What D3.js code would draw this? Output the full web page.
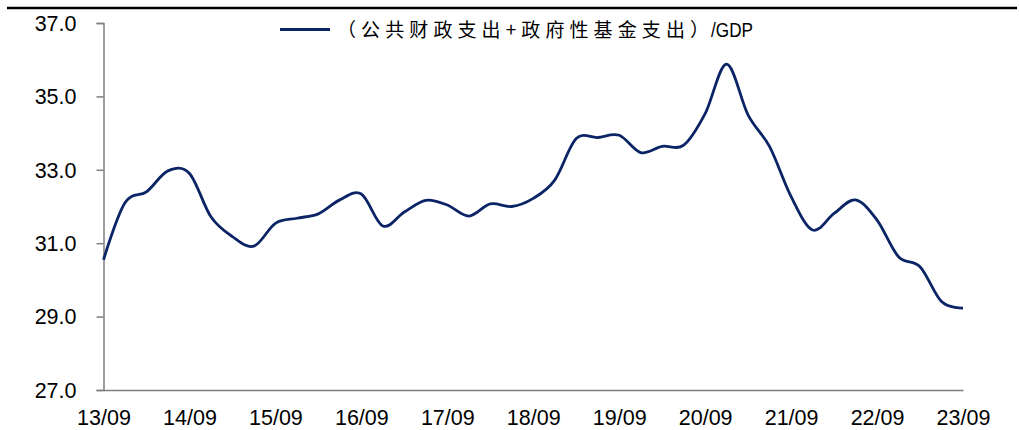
<!DOCTYPE html>
<html>
<head>
<meta charset="utf-8">
<script src="https://cdn.jsdelivr.net/npm/d3@7"></script>
<style>
  body { margin: 0; background: #fff; }
  svg { display: block; }
</style>
</head>
<body>
<div id="chart"></div>
<script>
// Quarterly ratio, 13/09 .. 23/09
const ratio = [30.55, 32.10, 32.40, 32.97, 32.90, 31.72, 31.18, 30.92, 31.54, 31.68,
               31.80, 32.18, 32.34, 31.47, 31.85, 32.17, 32.04, 31.74, 32.07, 32.00,
               32.22, 32.72, 33.85, 33.88, 33.94, 33.47, 33.64, 33.67, 34.53, 35.88,
               34.49, 33.63, 32.27, 31.36, 31.81, 32.18, 31.63, 30.63, 30.36, 29.41, 29.23];
const xTickLabels = ["13/09", "14/09", "15/09", "16/09", "17/09", "18/09",
                     "19/09", "20/09", "21/09", "22/09", "23/09"];
const yTicks = [27, 29, 31, 33, 35, 37];
const legendName = "（公共财政支出+政府性基金支出）";
const legendSuffix = "/GDP";

const width = 1019;
const height = 430;
const lineColor = "#0a2466";
const axisColor = "#7f7f7f";
const latin = "Arial, 'Liberation Sans', sans-serif";

const svg = d3.select("#chart")
              .append("svg")
              .attr("width", width)
              .attr("height", height);

// top rule
svg.append("line")
   .attr("x1", 7).attr("x2", 1017)
   .attr("y1", 8).attr("y2", 8)
   .attr("stroke", "#000")
   .attr("stroke-width", 2.5);

const x = d3.scaleLinear().domain([0, ratio.length - 1]).range([103.5, 963]);
const y = d3.scaleLinear().domain([27, 37]).range([390, 23]);

// y axis
const yAxis = svg.append("g")
                 .attr("transform", "translate(103.5,0)")
                 .call(d3.axisLeft(y).tickValues(yTicks).tickFormat(d3.format(".1f")).tickSize(7).tickPadding(20));
yAxis.select(".domain").attr("stroke", axisColor).attr("stroke-width", 1.5);
yAxis.selectAll(".tick line").attr("stroke", axisColor).attr("stroke-width", 1.5);
yAxis.selectAll(".tick text")
     .attr("font-family", latin)
     .attr("font-size", 21.5)
     .attr("fill", "#000")
     .attr("dy", "0.34em");

// x axis (no tick marks)
const xAxis = svg.append("g")
                 .attr("transform", "translate(0,390)")
                 .call(d3.axisBottom(x)
                         .tickValues(xTickLabels.map((d, i) => i * 4))
                         .tickFormat((d, i) => xTickLabels[i])
                         .tickSize(0).tickSizeOuter(0).tickPadding(20));
xAxis.select(".domain").attr("stroke", axisColor).attr("stroke-width", 1.5);
xAxis.selectAll(".tick text")
     .attr("font-family", latin)
     .attr("font-size", 21.5)
     .attr("fill", "#000");

// series line
const line = d3.line()
               .x((d, i) => x(i))
               .y(d => y(d))
               .curve(d3.curveCardinal.tension(0));

svg.append("path")
   .datum(ratio)
   .attr("fill", "none")
   .attr("stroke", lineColor)
   .attr("stroke-width", 2.8)
   .attr("stroke-linejoin", "round")
   .attr("d", line);

// legend
svg.append("line")
   .attr("x1", 280).attr("x2", 330)
   .attr("y1", 29.5).attr("y2", 29.5)
   .attr("stroke", lineColor)
   .attr("stroke-width", 2.8);

svg.append("text")
   .attr("x", 337).attr("y", 37)
   .attr("font-family", "'Noto Sans CJK SC', sans-serif")
   .attr("font-size", 19)
   .attr("fill", "#000")
   .attr("textLength", 372)
   .attr("lengthAdjust", "spacing")
   .text(legendName);

svg.append("text")
   .attr("x", 711).attr("y", 37)
   .attr("font-family", latin)
   .attr("font-size", 20)
   .attr("fill", "#000")
   .attr("textLength", 42)
   .attr("lengthAdjust", "spacingAndGlyphs")
   .text(legendSuffix);
</script>
</body>
</html>
